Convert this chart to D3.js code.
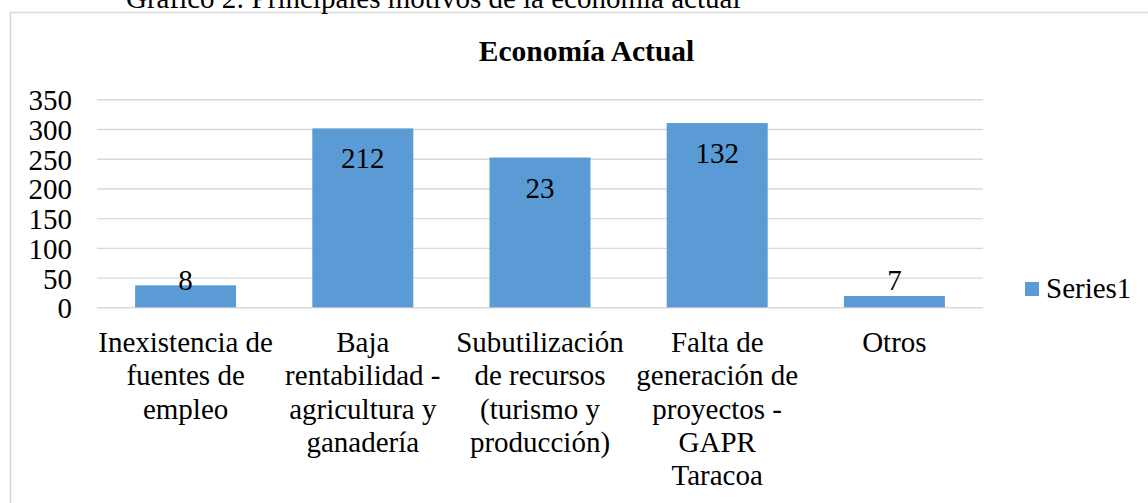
<!DOCTYPE html>
<html>
<head>
<meta charset="utf-8">
<script src="https://cdn.jsdelivr.net/npm/d3@7/dist/d3.min.js"></script>
<style>
  html, body { margin: 0; padding: 0; background: #fff; }
  svg { display: block; }
  text { font-family: "Liberation Serif", "Times New Roman", serif; fill: #000; }
</style>
</head>
<body>
<svg id="chart" width="1148" height="503"></svg>
<script>
// ---- data ----
const caption = "Gráfico 2: Principales motivos de la economía actual";
const title = "Economía Actual";
const categories = [
  ["Inexistencia de", "fuentes de", "empleo"],
  ["Baja", "rentabilidad -", "agricultura y", "ganadería"],
  ["Subutilización", "de recursos", "(turismo y", "producción)"],
  ["Falta de", "generación de", "proyectos -", "GAPR", "Taracoa"],
  ["Otros"]
];
const barValues = [37, 301, 252, 310, 19];
const dataLabels = ["8", "212", "23", "132", "7"];
const yTicks = [0, 50, 100, 150, 200, 250, 300, 350];
const seriesName = "Series1";

// ---- layout ----
const svg = d3.select("#chart");
const plot = { left: 97, right: 983, top: 99.3, bottom: 307.3 };
const barColor = "#5b9bd5";
const gridColor = "#d9d9d9";
const fs = 29;

// frame
svg.append("path")
  .attr("d", `M10.5,510 L10.5,12.5 L1160,12.5`)
  .attr("fill", "none").attr("stroke", gridColor).attr("stroke-width", 1.5);

// caption (cut at top)
svg.append("text").attr("x", 126).attr("y", 8)
  .attr("font-size", fs).text(caption);

// title
svg.append("text").attr("x", 586.5).attr("y", 61)
  .attr("text-anchor", "middle").attr("font-size", 29.5).attr("font-weight", "bold")
  .text(title);

const x = d3.scaleBand()
  .domain(d3.range(categories.length))
  .range([plot.left, plot.right])
  .paddingInner(0.43).paddingOuter(0.215);

const y = d3.scaleLinear().domain([0, 350]).range([plot.bottom, plot.top]);

// gridlines
const yAxis = d3.axisLeft(y).tickValues(yTicks).tickSize(-(plot.right - plot.left)).tickPadding(25);
const gAxis = svg.append("g").attr("transform", `translate(${plot.left},0)`).call(yAxis);
gAxis.select(".domain").remove();
gAxis.selectAll(".tick line").attr("stroke", gridColor).attr("stroke-width", 1.4);
gAxis.selectAll(".tick text")
  .attr("font-size", fs).attr("font-family", "Liberation Serif, Times New Roman, serif")
  .attr("fill", "#000").attr("dy", "0.36em");

// bars
svg.append("g").selectAll("rect").data(barValues).join("rect")
  .attr("x", (d, i) => x(i))
  .attr("y", d => y(d))
  .attr("width", x.bandwidth())
  .attr("height", d => y(0) - y(d))
  .attr("fill", barColor);

// data labels
svg.append("g").selectAll("text").data(dataLabels).join("text")
  .attr("x", (d, i) => x(i) + x.bandwidth() / 2)
  .attr("y", (d, i) => Math.min(y(barValues[i]) + 40, y(0) - 17))
  .attr("text-anchor", "middle").attr("font-size", fs)
  .text(d => d);

// category labels
const lineH = 33.3;
const cat = svg.append("g").selectAll("text").data(categories).join("text")
  .attr("text-anchor", "middle").attr("font-size", fs)
  .attr("transform", (d, i) => `translate(${x(i) + x.bandwidth() / 2},352)`);
cat.selectAll("tspan").data(d => d).join("tspan")
  .attr("x", 0).attr("y", (d, j) => j * lineH).text(d => d);

// legend
const lg = svg.append("g").attr("transform", "translate(1025,282)");
lg.append("rect").attr("width", 14).attr("height", 14).attr("fill", barColor);
lg.append("text").attr("x", 21).attr("y", 15.5).attr("font-size", fs).text(seriesName);
</script>
</body>
</html>
